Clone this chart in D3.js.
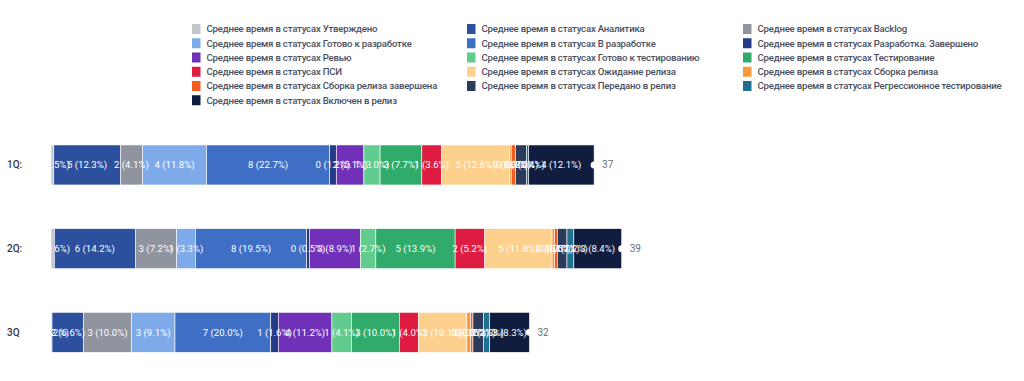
<!DOCTYPE html>
<html>
<head>
<meta charset="utf-8">
<script src="https://cdn.jsdelivr.net/npm/d3@7/dist/d3.min.js"></script>
<style>
  html, body { margin: 0; padding: 0; background: #fff; }
  svg { display: block; }
  text { font-family: Roboto, "Noto Sans", sans-serif; }
</style>
</head>
<body>
<svg id="chart" width="1024" height="381"></svg>
<script>
const categories = ["1Q:", "2Q:", "3Q"];

const seriesNames = [
  "Среднее время в статусах Утверждено",
  "Среднее время в статусах Аналитика",
  "Среднее время в статусах Backlog",
  "Среднее время в статусах Готово к разработке",
  "Среднее время в статусах В разработке",
  "Среднее время в статусах Разработка. Завершено",
  "Среднее время в статусах Ревью",
  "Среднее время в статусах Готово к тестированию",
  "Среднее время в статусах Тестирование",
  "Среднее время в статусах ПСИ",
  "Среднее время в статусах Ожидание релиза",
  "Среднее время в статусах Сборка релиза",
  "Среднее время в статусах Сборка релиза завершена",
  "Среднее время в статусах Передано в релиз",
  "Среднее время в статусах Регрессионное тестирование",
  "Среднее время в статусах Включен в релиз"
];

const seriesColors = [
  "#c3c6cd", "#2c4f9e", "#8f949f", "#7eaaea", "#3e6fc4", "#243c88",
  "#7030b8", "#62cc8e", "#31ab6b", "#de1b40", "#fdd08e", "#f89a3b",
  "#f35b1f", "#2d3b5a", "#1f7192", "#111d3e"
];

// average days per status, in the series order above
const q1Values = [0.19, 4.56, 1.52, 4.38, 8.44, 0.45, 1.89, 1.11, 2.86, 1.34, 4.67, 0.11, 0.30, 0.74, 0.15, 4.49];
const q2Values = [0.23, 5.55, 2.82, 1.29, 7.62, 0.20, 3.48, 1.06, 5.43, 2.03, 4.61, 0.16, 0.20, 0.66, 0.47, 3.28];
const q3Values = [0.07, 2.16, 3.28, 2.98, 6.56, 0.52, 3.67, 1.34, 3.28, 1.31, 3.31, 0.26, 0.16, 0.72, 0.43, 2.72];

const valuesByCategory = [q1Values, q2Values, q3Values];

const svg = d3.select("#chart");

// ---- Legend ----
const legendCols = [192, 467, 743];
const legendY0 = 29, legendStep = 14.25;
const legend = svg.append("g");
seriesNames.forEach((name, i) => {
  const col = i % 3, row = Math.floor(i / 3);
  const g = legend.append("g")
    .attr("transform", `translate(${legendCols[col]},${legendY0 + row * legendStep})`);
  g.append("rect").attr("x", 0).attr("y", -5).attr("width", 8.5).attr("height", 10)
    .attr("fill", seriesColors[i]);
  g.append("text").attr("x", 14.5).attr("y", 0).attr("dy", "0.35em")
    .attr("font-size", 9.6).attr("font-weight", 500).attr("letter-spacing", -0.2)
    .attr("fill", "#4a4f5e")
    .text(name);
});

// ---- Data table ----
const table = categories.map((c, ci) => {
  const row = { category: c };
  seriesNames.forEach((s, si) => row[s] = valuesByCategory[ci][si]);
  return row;
});
const stacked = d3.stack().keys(seriesNames)(table);
const totals = valuesByCategory.map(v => d3.sum(v));

const x = d3.scaleLinear().domain([0, 40]).range([51, 51 + 40 * 14.6]);
const y = d3.scaleBand().domain(categories).range([123.2, 374.1])
  .paddingInner(0.522).paddingOuter(0.26);

// bars
const barsG = svg.append("g");
stacked.forEach((layer, si) => {
  barsG.selectAll(null).data(layer).enter().append("rect")
    .attr("x", d => x(d[0]))
    .attr("y", d => y(d.data.category))
    .attr("width", d => Math.max(0, x(d[1]) - x(d[0])))
    .attr("height", y.bandwidth())
    .attr("fill", seriesColors[si])
    .attr("stroke", "#fff")
    .attr("stroke-width", 0.6);
});

// segment labels
const labelsG = svg.append("g");
stacked.forEach((layer, si) => {
  labelsG.selectAll(null).data(layer).enter().append("text")
    .attr("x", d => (x(d[0]) + x(d[1])) / 2)
    .attr("y", d => y(d.data.category) + y.bandwidth() / 2)
    .attr("dy", "0.35em")
    .attr("text-anchor", "middle")
    .attr("font-size", 9.6)
    .attr("fill", "#fff")
    .text(d => {
      const v = d[1] - d[0];
      const ti = categories.indexOf(d.data.category);
      return `${Math.round(v)} (${(v / totals[ti] * 100).toFixed(1)}%)`;
    });
});

// end markers and totals
categories.forEach((c, ci) => {
  const ex = x(totals[ci]);
  const cy = y(c) + y.bandwidth() / 2;
  svg.append("circle").attr("cx", ex).attr("cy", cy).attr("r", 3.5).attr("fill", "#fff");
  svg.append("text").attr("x", ex + 8).attr("y", cy).attr("dy", "0.35em")
    .attr("font-size", 10).attr("fill", "#6a6e78")
    .text(Math.floor(totals[ci]));
});

// category axis
const yAxis = svg.append("g").attr("transform", "translate(7,0)");
categories.forEach(c => {
  yAxis.append("text").attr("x", 0).attr("y", y(c) + y.bandwidth() / 2)
    .attr("dy", "0.35em").attr("font-size", 10).attr("font-weight", 500)
    .attr("fill", "#333844").text(c);
});
</script>
</body>
</html>
